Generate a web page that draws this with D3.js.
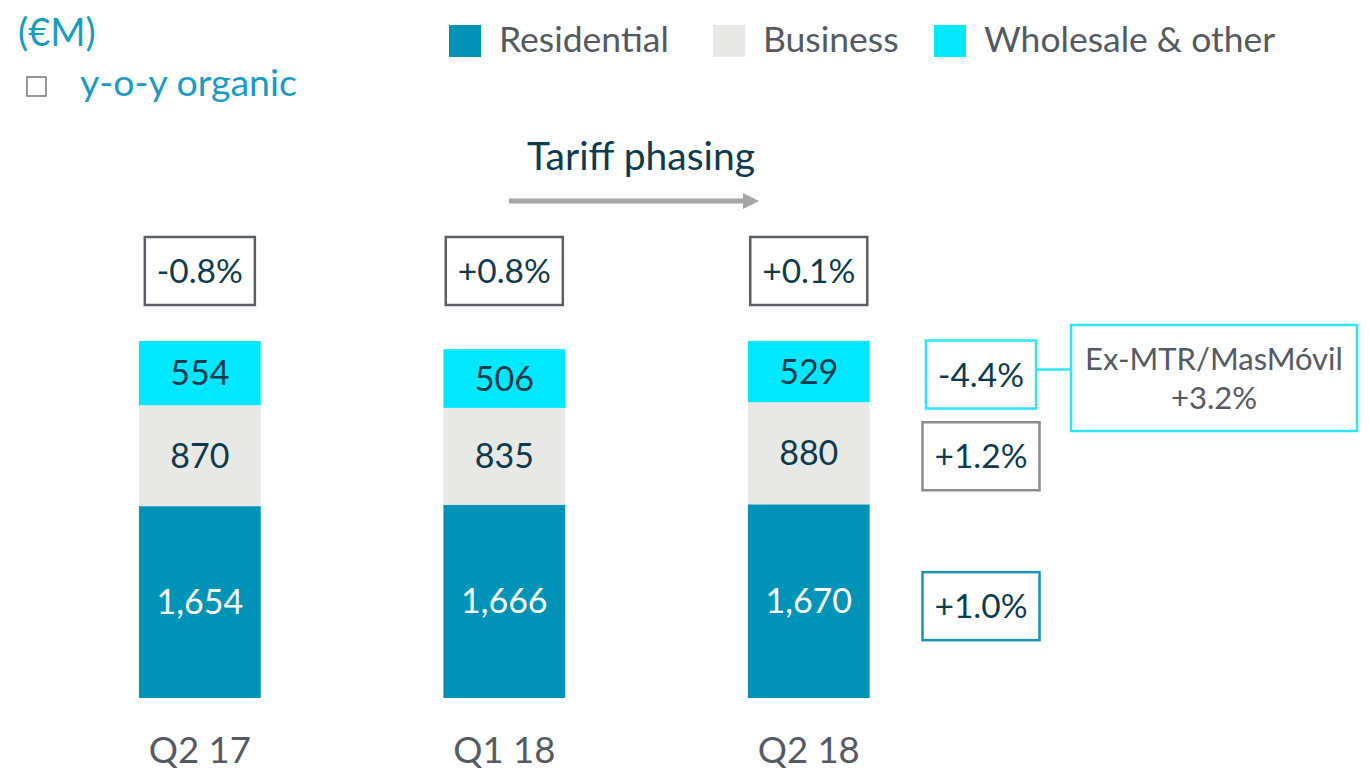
<!DOCTYPE html>
<html>
<head>
<script src="https://d3js.org/d3.v7.min.js"></script>
<style>
  body { margin: 0; background: #fff; }
  text { font-family: Lato, "Open Sans", sans-serif; }
</style>
</head>
<body>
<div id="chart"></div>
<script>
// data
const quarters = ["Q2 17", "Q1 18", "Q2 18"];
const segments = ["Residential", "Business", "Wholesale & other"];
const residential = [1654, 1666, 1670];
const business = [870, 835, 880];
const wholesale = [554, 506, 529];
const totalGrowth = ["-0.8%", "+0.8%", "+0.1%"];
const segmentGrowth = ["+1.0%", "+1.2%", "-4.4%"];
const exMtrNote = ["Ex-MTR/MasMóvil", "+3.2%"];

const colors = ["#0093b8", "#e8e8e6", "#00e8ff"];
const boxStroke = ["#1a93b5", "#8c8c8c", "#2ee6f6"];
const textDark = "#0d3a4d";
const textGray = "#555a62";

const W = 1370, H = 772;
const svg = d3.select("#chart").append("svg")
  .attr("width", W).attr("height", H);

const rows = quarters.map((q, i) => ({ q, Residential: residential[i], Business: business[i], "Wholesale & other": wholesale[i] }));
const stacked = d3.stack().keys(segments)(rows);

const x = d3.scaleBand().domain(quarters).range([47.6, 961]).paddingInner(0.6).paddingOuter(0.3);
const y = d3.scaleLinear().domain([0, 3500]).range([698, 292]);

// bars
const layer = svg.selectAll(".layer").data(stacked).enter().append("g")
  .attr("fill", (d, i) => colors[i]);
layer.selectAll("rect").data(d => d).enter().append("rect")
  .attr("x", d => x(d.data.q))
  .attr("width", x.bandwidth())
  .attr("y", d => y(d[1]))
  .attr("height", d => y(d[0]) - y(d[1]));

// value labels
const fmt = d3.format(",");
stacked.forEach((s, si) => {
  svg.selectAll(null).data(s).enter().append("text")
    .attr("x", d => x(d.data.q) + x.bandwidth() / 2)
    .attr("y", d => (y(d[0]) + y(d[1])) / 2 + 12)
    .attr("text-anchor", "middle")
    .attr("font-size", 34)
    .attr("fill", si === 0 ? "#fff" : textDark)
    .text(d => fmt(d[1] - d[0]));
});

// boxed label helper
function boxLabel(cx, cy, label, stroke) {
  const g = svg.append("g");
  const t = g.append("text").attr("x", cx).attr("y", cy + 12)
    .attr("text-anchor", "middle").attr("font-size", 33.5)
    .attr("fill", textDark).text(label);
  const w = t.node().getComputedTextLength() + 24;
  g.insert("rect", "text")
    .attr("x", cx - w / 2).attr("y", cy - 34)
    .attr("width", w).attr("height", 68)
    .attr("fill", "#fff").attr("stroke", stroke).attr("stroke-width", 2.5);
}

// y-o-y totals above bars
quarters.forEach((q, i) => {
  boxLabel(x(q) + x.bandwidth() / 2, 271, totalGrowth[i], "#5a5f66");
});

// segment growth boxes on the right
const last = quarters.length - 1;
const bx = 981;
stacked.forEach((s, si) => {
  const d = s[last];
  boxLabel(bx, (y(d[0]) + y(d[1])) / 2 + (si === 0 ? 5 : 3), segmentGrowth[si], boxStroke[si]);
});

// ex-MTR note
const wsMid = (y(stacked[2][last][0]) + y(stacked[2][last][1])) / 2;
svg.append("line").attr("x1", 1035).attr("x2", 1071)
  .attr("y1", wsMid - 2).attr("y2", wsMid - 2)
  .attr("stroke", boxStroke[2]).attr("stroke-width", 2.5);
svg.append("rect").attr("x", 1071).attr("y", 325).attr("width", 286).attr("height", 106)
  .attr("fill", "#fff").attr("stroke", boxStroke[2]).attr("stroke-width", 2.5);
svg.append("text").attr("x", 1214).attr("text-anchor", "middle")
  .attr("font-size", 31).attr("fill", textGray)
  .selectAll("tspan").data(exMtrNote).enter().append("tspan")
  .attr("x", 1214).attr("y", (d, i) => 370 + i * 39).text(d => d);

// category labels
svg.selectAll(".cat").data(quarters).enter().append("text")
  .attr("x", d => x(d) + x.bandwidth() / 2)
  .attr("y", 763)
  .attr("text-anchor", "middle")
  .attr("font-size", 36.5)
  .attr("fill", textGray)
  .text(d => d);

// tariff phasing
svg.append("text").attr("x", 641).attr("y", 170).attr("text-anchor", "middle")
  .attr("font-size", 39).attr("fill", textDark).text("Tariff phasing");
svg.append("line").attr("x1", 509).attr("x2", 745).attr("y1", 201).attr("y2", 201)
  .attr("stroke", "#a6a6a6").attr("stroke-width", 5);
svg.append("path").attr("d", "M743,193 L759,201 L743,209 Z").attr("fill", "#a6a6a6");

// header
svg.append("text").attr("x", 18).attr("y", 46).attr("font-size", 38)
  .attr("fill", "#1a9bc0").text("(€M)");
svg.append("rect").attr("x", 27).attr("y", 77).attr("width", 19).attr("height", 19)
  .attr("fill", "none").attr("stroke", "#777").attr("stroke-width", 1.5);
svg.append("text").attr("x", 80).attr("y", 96).attr("font-size", 37.5)
  .attr("fill", "#1a9bc0").text("y-o-y organic");

// legend
const legendX = [449, 713, 934];
const leg = svg.selectAll(".leg").data(segments).enter().append("g")
  .attr("transform", (d, i) => `translate(${legendX[i]},25)`);
leg.append("rect").attr("width", 32).attr("height", 32).attr("fill", (d, i) => colors[i]);
leg.append("text").attr("x", 50).attr("y", 27).attr("font-size", 35.5)
  .attr("fill", textGray).text(d => d);
</script>
</body>
</html>
